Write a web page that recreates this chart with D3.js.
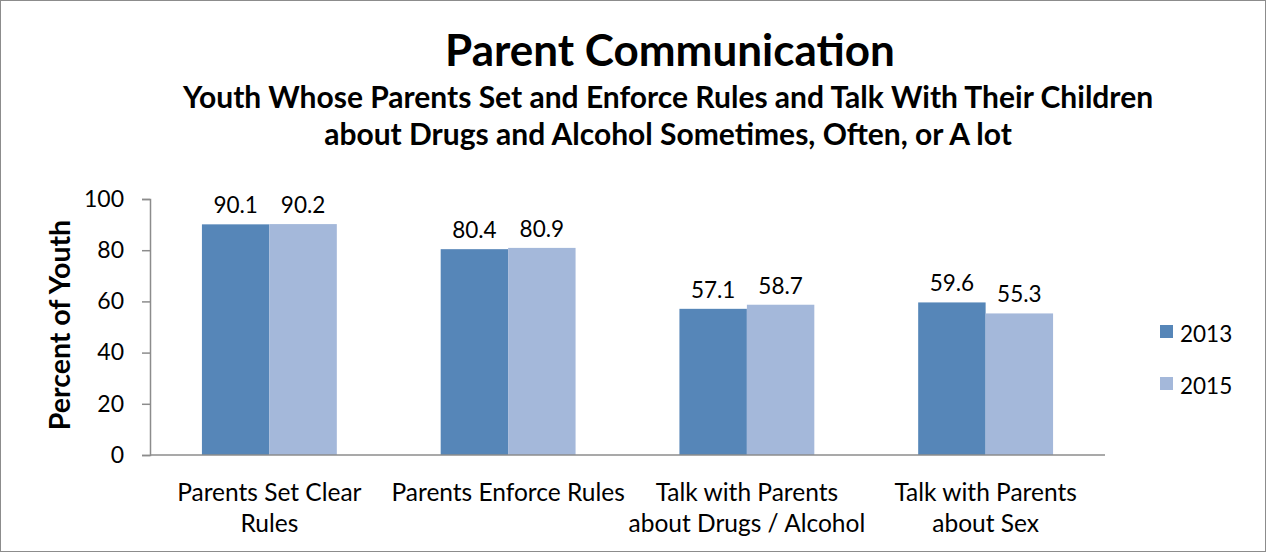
<!DOCTYPE html>
<html>
<head>
<meta charset="utf-8">
<script src="https://cdn.jsdelivr.net/npm/d3@7"></script>
<style>
  body { margin: 0; background: #fff; }
  svg { display: block; font-family: Lato, "Open Sans", sans-serif; }
</style>
</head>
<body>
<svg id="chart"></svg>
<script>
const categories = [
  ["Parents Set Clear", "Rules"],
  ["Parents Enforce Rules"],
  ["Talk with Parents", "about Drugs / Alcohol"],
  ["Talk with Parents", "about Sex"]
];
const years = ["2013", "2015"];
const values2013 = [90.1, 80.4, 57.1, 59.6];
const values2015 = [90.2, 80.9, 58.7, 55.3];
const yTicks = [0, 20, 40, 60, 80, 100];

const COLORS = { "2013": "#5686b8", "2015": "#a4b8da" };

const width = 1268, height = 554;
const plot = { left: 150, right: 1105, top: 199, bottom: 455 };

const svg = d3.select("#chart").attr("width", width).attr("height", height);

svg.append("rect")
  .attr("x", 0.5).attr("y", 0.5)
  .attr("width", width - 3).attr("height", height - 3)
  .attr("fill", "#fff").attr("stroke", "#8c8c8c");

// titles
svg.append("text").attr("x", 670).attr("y", 66)
  .attr("text-anchor", "middle").attr("font-size", 44).attr("font-weight", 700)
  .text("Parent Communication");
svg.append("text").attr("x", 668).attr("y", 108)
  .attr("text-anchor", "middle").attr("font-size", 30).attr("font-weight", 700)
  .text("Youth Whose Parents Set and Enforce Rules and Talk With Their Children");
svg.append("text").attr("x", 668).attr("y", 145)
  .attr("text-anchor", "middle").attr("font-size", 30).attr("font-weight", 700)
  .text("about Drugs and Alcohol Sometimes, Often, or A lot");

const x = d3.scaleBand().domain(d3.range(categories.length))
  .range([plot.left, plot.right]).paddingInner(0).paddingOuter(0);
const xs = d3.scaleBand().domain(years).range([0, x.bandwidth()])
  .paddingInner(0).paddingOuter(0.77);
const y = d3.scaleLinear().domain([0, 100]).range([plot.bottom, plot.top]);

// y axis
const yAxis = svg.append("g")
  .attr("transform", `translate(${plot.left},0)`)
  .call(d3.axisLeft(y).tickValues(yTicks).tickSize(8).tickPadding(18));
yAxis.select(".domain").attr("stroke", "#8c8c8c").attr("stroke-width", 1.5);
yAxis.selectAll(".tick line").attr("stroke", "#8c8c8c").attr("stroke-width", 1.5);
yAxis.selectAll(".tick text").attr("font-size", 23).attr("fill", "#000")
  .attr("font-family", "Lato, 'Open Sans', sans-serif");

svg.append("text")
  .attr("transform", `translate(70,${(plot.top + plot.bottom) / 2 - 2}) rotate(-90)`)
  .attr("text-anchor", "middle").attr("font-size", 28.5).attr("font-weight", 700)
  .text("Percent of Youth");

// bars
const series = [values2013, values2015];
const groups = svg.append("g").selectAll("g")
  .data(categories.map((c, i) => i))
  .join("g")
  .attr("transform", i => `translate(${x(i)},0)`);

groups.selectAll("rect")
  .data(i => years.map((yr, k) => ({ yr, v: series[k][i] })))
  .join("rect")
  .attr("x", d => xs(d.yr))
  .attr("y", d => y(d.v))
  .attr("width", xs.bandwidth())
  .attr("height", d => y(0) - y(d.v))
  .attr("fill", d => COLORS[d.yr]);

groups.selectAll("text.value")
  .data(i => years.map((yr, k) => ({ yr, v: series[k][i] })))
  .join("text")
  .attr("class", "value")
  .attr("x", d => xs(d.yr) + xs.bandwidth() / 2)
  .attr("y", d => y(d.v) - 11)
  .attr("text-anchor", "middle").attr("font-size", 22.5)
  .text(d => d3.format(".1f")(d.v));

// x axis line
svg.append("line")
  .attr("x1", plot.left).attr("x2", plot.right)
  .attr("y1", y(0)).attr("y2", y(0))
  .attr("stroke", "#8c8c8c").attr("stroke-width", 1.5);

// category labels
groups.append("text")
  .attr("x", x.bandwidth() / 2)
  .attr("text-anchor", "middle").attr("font-size", 24.5)
  .selectAll("tspan")
  .data(i => categories[i])
  .join("tspan")
  .attr("x", x.bandwidth() / 2)
  .attr("y", (d, k) => 501 + k * 31)
  .text(d => d);

// legend
const legend = svg.append("g").selectAll("g")
  .data(years).join("g")
  .attr("transform", (d, k) => `translate(1160,${325 + k * 52})`);
legend.append("rect").attr("width", 13).attr("height", 13)
  .attr("fill", d => COLORS[d]);
legend.append("text").attr("x", 20).attr("y", 17)
  .attr("font-size", 22.5).text(d => d);
</script>
</body>
</html>
